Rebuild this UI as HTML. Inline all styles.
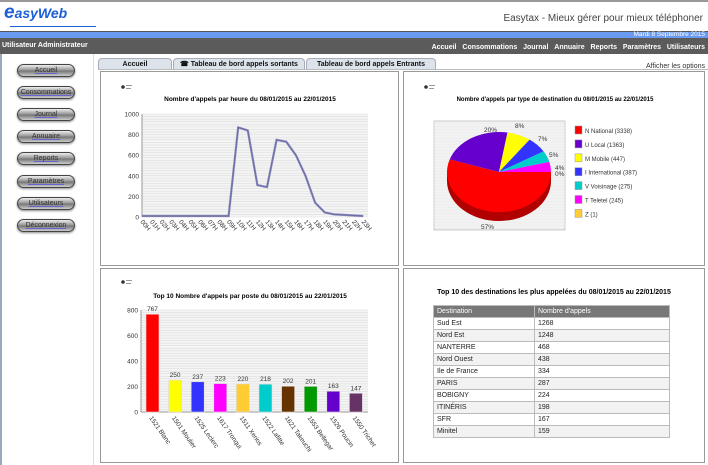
<!DOCTYPE html>
<html><head><meta charset="utf-8">
<style>
*{margin:0;padding:0;box-sizing:border-box}
body{width:708px;height:465px;overflow:hidden;background:#fff;font-family:"Liberation Sans",sans-serif;position:relative}
.a{position:absolute}
.btn{position:absolute;left:17px;width:58px;height:13px;border-radius:7px;border:1px solid #444;background:linear-gradient(#eee,#999 45%,#777 55%,#ccc);font-size:7px;color:#333;text-align:center;line-height:11px;text-decoration:underline;text-decoration-color:#66c;box-shadow:0 1px 2px #888}
.panel{position:absolute;border:1px solid #999;background:#fff}
.tab{position:absolute;top:58px;height:12px;background:#dde3ea;border:1px solid #aab;border-bottom:none;border-radius:4px 4px 0 0;font-size:7px;font-weight:bold;text-align:center;line-height:11px;color:#111}
table{border-collapse:collapse;font-size:7px;color:#222}
td{border:1px solid #bbb;height:12px;padding:0 3px}
</style></head><body>
<div class="a" style="left:0;top:0;width:708px;height:2px;background:#999"></div>
<div class="a" style="left:4px;top:2px;font:italic bold 19px 'Liberation Sans',sans-serif;color:#1a5ed8">e<span style="font-size:14px">asyWeb</span></div>
<div class="a" style="left:10px;top:26px;width:86px;height:1px;background:#1a5ed8"></div>
<div class="a" style="right:5px;top:13px;font-size:10px;color:#444">Easytax - Mieux gérer pour mieux téléphoner</div>
<div class="a" style="left:0;top:31px;width:708px;height:7px;background:#6a9af0;border-top:1px solid #555"></div>
<div class="a" style="right:3px;top:31px;font-size:6.5px;color:#fff">Mardi 8 Septembre 2015</div>
<div class="a" style="left:0;top:38px;width:708px;height:16px;background:#5b5b5b"></div>
<div class="a" style="left:2px;top:42px;font-size:7px;color:#fff;font-weight:bold">Utilisateur Administrateur</div>
<div class="a" style="right:3px;top:44px;font-size:7px;color:#fff;font-weight:bold;word-spacing:1px">Accueil &nbsp;Consommations &nbsp;Journal &nbsp;Annuaire &nbsp;Reports &nbsp;Paramètres &nbsp;Utilisateurs</div>
<div class="a" style="left:0;top:54px;width:2px;height:411px;background:#9ab"></div>
<div class="a" style="left:93px;top:54px;width:1px;height:411px;background:#ddd"></div>
<div class="btn" style="top:64px">Accueil</div>
<div class="btn" style="top:86px">Consommations</div>
<div class="btn" style="top:108px">Journal</div>
<div class="btn" style="top:130px">Annuaire</div>
<div class="btn" style="top:152px">Reports</div>
<div class="btn" style="top:175px">Paramètres</div>
<div class="btn" style="top:197px">Utilisateurs</div>
<div class="btn" style="top:219px">Déconnexion</div>
<div class="tab" style="left:98px;width:74px">Accueil</div>
<div class="tab" style="left:173px;width:132px">☎ Tableau de bord appels sortants</div>
<div class="tab" style="left:306px;width:130px">Tableau de bord appels Entrants</div>
<div class="a" style="right:3px;top:63px;font-size:7px;color:#333">Afficher les options</div>
<div class="a" style="left:98px;top:69px;width:610px;height:1px;background:#bbb"></div>
<div class="panel" style="left:100px;top:71px;width:299px;height:195px"></div>
<div class="panel" style="left:403px;top:71px;width:302px;height:195px"></div>
<div class="panel" style="left:100px;top:268px;width:299px;height:195px"></div>
<div class="panel" style="left:403px;top:268px;width:302px;height:195px"></div>
<svg id="s" class="a" style="left:0;top:0" width="708" height="465" font-family="Liberation Sans, sans-serif"></svg>
<div class="a" style="left:403px;top:289px;width:302px;text-align:center;font-size:7px;font-weight:bold">Top 10 des destinations les plus appelées du 08/01/2015 au 22/01/2015</div>
<table class="a" style="left:433px;top:305px;width:237px">
<tr style="background:#777;color:#fff"><td style="width:101px">Destination</td><td>Nombre d'appels</td></tr>
<tr><td>Sud Est</td><td>1268</td></tr>
<tr style="background:#f2f2f2"><td>Nord Est</td><td>1248</td></tr>
<tr><td>NANTERRE</td><td>468</td></tr>
<tr style="background:#f2f2f2"><td>Nord Ouest</td><td>438</td></tr>
<tr><td>Ile de France</td><td>334</td></tr>
<tr style="background:#f2f2f2"><td>PARIS</td><td>287</td></tr>
<tr><td>BOBIGNY</td><td>224</td></tr>
<tr style="background:#f2f2f2"><td>ITINÉRIS</td><td>198</td></tr>
<tr><td>SFR</td><td>167</td></tr>
<tr style="background:#f2f2f2"><td>Minitel</td><td>159</td></tr>
</table>
<script>
var s=document.getElementById('s'),h='';
function T(x,y,t,o){h+='<text x="'+x+'" y="'+y+'" '+(o||'')+'>'+t+'</text>';}
// line chart
var X0=142,X1=368,Y0=217,Y1=114;
h+='<rect x="'+X0+'" y="'+Y1+'" width="'+(X1-X0)+'" height="'+(Y0-Y1)+'" fill="#f4f4f4"/>';
for(var i=0;i<=40;i++){var y=Y1+i*(Y0-Y1)/40;h+='<line x1="'+X0+'" x2="'+X1+'" y1="'+y+'" y2="'+y+'" stroke="#ddd" stroke-width="0.6"/>';}
T(250,101,"Nombre d'appels par heure du 08/01/2015 au 22/01/2015",'font-size="6.5" font-weight="bold" text-anchor="middle"');
for(var v=0;v<=1000;v+=200){var y=Y0-v/1000*(Y0-Y1);T(X0-3,y+2.5,v,'font-size="6.5" text-anchor="end" fill="#333"');}
h+='<line x1="'+X0+'" x2="'+X0+'" y1="'+Y1+'" y2="'+Y0+'" stroke="#999"/>';
var d=[10,10,10,10,10,10,10,10,10,10,870,840,310,290,750,730,600,400,140,45,25,20,15,10],p='';
var st=(X1-X0)/23.5;
for(i=0;i<24;i++){var x=X0+i*st,y=Y0-d[i]/1000*(Y0-Y1);p+=(i?'L':'M')+x.toFixed(1)+','+y.toFixed(1);
var lb=(i<10?'0':'')+i+'H';T(0,0,lb,'font-size="6.5" fill="#333" transform="translate('+(x-2)+','+(Y0+5)+') rotate(50)"');}
h+='<path d="'+p+'" fill="none" stroke="#8888bb" stroke-width="2.2"/><path d="'+p+'" fill="none" stroke="#6666a0" stroke-width="0.7"/>';
// pie
h+='<rect x="434" y="121" width="131" height="109" fill="#eee" stroke="#aaa" stroke-width="0.6"/>';
for(i=0;i<36;i++){h+='<line x1="434" x2="565" y1="'+(122+i*3)+'" y2="'+(122+i*3)+'" stroke="#fafafa" stroke-width="0.8"/>';}
T(555,101,"Nombre d'appels par type de destination du 08/01/2015 au 22/01/2015",'font-size="6" font-weight="bold" text-anchor="middle"');
var pv=[3338,1363,447,387,275,245,1],pc=['#ff0000','#6600cc','#ffff00','#3333ff','#00cccc','#ff00ff','#ffcc33'],dc=['#b00000','#440088','#aaaa00','#2222aa','#008888','#aa00aa','#aa8800'];
var tot=6056,cx=499,cy=172,rx=52,ry=40,dp=9,a=0;
function pt(an,dy){return (cx+rx*Math.cos(an)).toFixed(1)+','+(cy+dy+ry*Math.sin(an)).toFixed(1);}
// depth
h+='<path d="M'+(cx-rx)+','+cy+' L'+(cx-rx)+','+(cy+dp)+' A'+rx+','+ry+' 0 0 0 '+(cx+rx)+','+(cy+dp)+' L'+(cx+rx)+','+cy+' Z" fill="#b00000"/>';
for(i=0;i<7;i++){var b=a+pv[i]/tot*2*Math.PI;h+='<path d="M'+cx+','+cy+' L'+pt(a,0)+' A'+rx+','+ry+' 0 '+((b-a)>Math.PI?1:0)+' 1 '+pt(b,0)+' Z" fill="'+pc[i]+'"/>';a=b;}
T(484,132,'20%','font-size="6.5" fill="#333"');T(515,128,'8%','font-size="6.5" fill="#333"');T(538,141,'7%','font-size="6.5" fill="#333"');
T(549,157,'5%','font-size="6.5" fill="#333"');T(555,170,'4%','font-size="6.5" fill="#333"');T(555,176,'0%','font-size="6.5" fill="#333"');T(481,229,'57%','font-size="6.5" fill="#333"');
var ln=['N National (3338)','U Local (1363)','M Mobile (447)','I International (387)','V Voisinage (275)','T Teletel (245)','Z (1)'];
for(i=0;i<7;i++){var y=126+i*13.9;h+='<rect x="575" y="'+y+'" width="7" height="8" fill="'+pc[i]+'" stroke="#999" stroke-width="0.5"/>';T(585,y+7,ln[i],'font-size="6" fill="#333"');}
// bar chart
var B0=412,B1=310,BX0=141,BX1=368;
h+='<rect x="'+BX0+'" y="'+B1+'" width="'+(BX1-BX0)+'" height="'+(B0-B1)+'" fill="#f4f4f4"/>';
for(i=0;i<=40;i++){var y=B1+i*(B0-B1)/40;h+='<line x1="'+BX0+'" x2="'+BX1+'" y1="'+y+'" y2="'+y+'" stroke="#ddd" stroke-width="0.6"/>';}
h+='<line x1="'+BX0+'" x2="'+BX0+'" y1="'+B1+'" y2="'+B0+'" stroke="#999"/><line x1="'+BX0+'" x2="'+BX1+'" y1="'+B0+'" y2="'+B0+'" stroke="#999"/>';
T(250,298,"Top 10 Nombre d'appels par poste du 08/01/2015 au 22/01/2015",'font-size="6.5" font-weight="bold" text-anchor="middle"');
for(v=0;v<=800;v+=200){var y=B0-v/800*(B0-B1);T(BX0-3,y+2.5,v,'font-size="6.5" text-anchor="end" fill="#333"');}
var bv=[767,250,237,223,220,218,202,201,163,147],bc=['#ff0000','#ffff00','#3333ff','#ff00ff','#ffcc33','#00cccc','#663300','#009900','#6600cc','#663366'],
bl=['1521 Blanc','1501 Moulier','1525 Leclerc','1617 Tronqui','1511 Xerios','1522 Lafitte','1621 Takeuchi','1553 Bellegar','1526 Poucin','1550 Trichet'];
for(i=0;i<10;i++){var x=146+i*22.6,y=B0-bv[i]/800*(B0-B1);
h+='<rect x="'+x+'" y="'+y+'" width="13" height="'+(B0-y)+'" fill="'+bc[i]+'" stroke="#ddd" stroke-width="0.6"/>';
T(x+6.5,y-3,bv[i],'font-size="6.5" text-anchor="middle" fill="#333"');
T(0,0,bl[i],'font-size="6.5" fill="#333" transform="translate('+(x+3)+','+(B0+6)+') rotate(55)"');}
// tiny logos
[[123,87],[426,87],[123,282]].forEach(function(q){h+='<circle cx="'+q[0]+'" cy="'+q[1]+'" r="1.8" fill="#333"/><rect x="'+(q[0]+3)+'" y="'+(q[1]-2)+'" width="6" height="1" fill="#999"/><rect x="'+(q[0]+3)+'" y="'+(q[1]+1)+'" width="5" height="1" fill="#999"/>';});
s.innerHTML=h;
</script>
</body></html>
